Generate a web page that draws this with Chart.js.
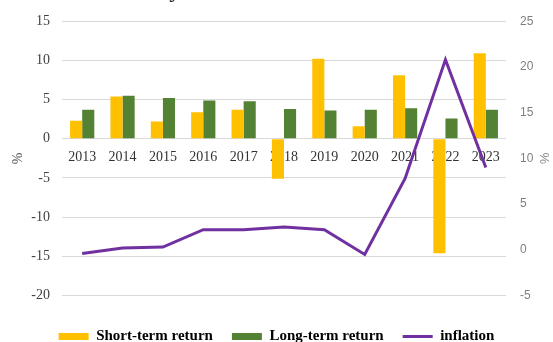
<!DOCTYPE html>
<html>
<head>
<meta charset="utf-8">
<script src="https://cdn.jsdelivr.net/npm/chart.js@4/dist/chart.umd.min.js"></script>
<style>
  html, body { margin: 0; padding: 0; background: #fff; overflow: hidden; }
  #wrap { position: relative; width: 553px; height: 342px; overflow: hidden; }
  canvas { position: absolute; left: 0; top: 0; z-index: 0; }
  #caption {
    position: absolute; left: 8px; top: -23px; margin: 0; z-index: 1;
    font: 24px/24px "Liberation Serif", serif; color: #222; white-space: nowrap;
  }
</style>
</head>
<body>
<div id="wrap">
  <canvas id="chart" width="553" height="354"></canvas>
  <p id="caption">between the analysed variables.</p>
</div>
<script>
// Annual returns (left axis, %) and inflation (right axis, %)
const years = ['2013', '2014', '2015', '2016', '2017', '2018', '2019', '2020', '2021', '2022', '2023'];
const shortTermReturn = [2.3, 5.4, 2.2, 3.4, 3.7, -5.1, 10.2, 1.6, 8.1, -14.6, 10.9];
const longTermReturn = [3.7, 5.5, 5.2, 4.9, 4.8, 3.8, 3.6, 3.7, 3.9, 2.6, 3.7];
const inflation = [-0.4, 0.2, 0.3, 2.2, 2.2, 2.5, 2.2, -0.5, 7.8, 20.8, 9.0];

const serif = '"Liberation Serif", "Times New Roman", serif';
const sans = '"Liberation Sans", Arial, sans-serif';

new Chart(document.getElementById('chart'), {
  type: 'bar',
  data: {
    labels: years,
    datasets: [
      {
        label: 'Short-term return',
        data: shortTermReturn,
        backgroundColor: '#FFC000',
        borderWidth: 0,
        yAxisID: 'y',
        pointStyle: 'rect',
        order: 2,
        categoryPercentage: 0.6,
        barPercentage: 1.0
      },
      {
        label: 'Long-term return',
        data: longTermReturn,
        backgroundColor: '#548235',
        borderWidth: 0,
        yAxisID: 'y',
        pointStyle: 'rect',
        order: 2,
        categoryPercentage: 0.6,
        barPercentage: 1.0
      },
      {
        // drawn over the bars
        type: 'line',
        label: 'inflation',
        data: inflation,
        borderColor: '#7030A0',
        backgroundColor: '#7030A0',
        borderWidth: 3,
        pointRadius: 0,
        pointStyle: 'line',
        tension: 0,
        yAxisID: 'y1',
        order: 1
      }
    ]
  },
  options: {
    responsive: false,
    animation: false,
    layout: { padding: { top: 21, left: 0, right: 0, bottom: 0 } },
    plugins: {
      tooltip: { enabled: false },
      legend: {
        position: 'bottom',
        title: { display: true, text: '', font: { size: 12 }, padding: 0 },
        labels: {
          usePointStyle: true,
          pointStyleWidth: 30,
          boxWidth: 30,
          boxHeight: 7,
          padding: 19,
          color: '#000',
          font: { family: serif, size: 15, weight: 'bold' },
          sort: (a, b) => a.datasetIndex - b.datasetIndex
        }
      }
    },
    scales: {
      x: {
        type: 'category',
        position: { y: 0 },
        offset: true,
        grid: { display: false, drawTicks: false },
        border: { display: false },
        ticks: {
          padding: 10,
          maxRotation: 0,
          autoSkip: false,
          color: '#333',
          font: { family: serif, size: 14 }
        }
      },
      y: {
        position: 'left',
        min: -20,
        max: 15,
        afterFit: (s) => { s.width = 62; },
        grid: { color: '#d9d9d9', lineWidth: 1, drawTicks: false },
        border: { display: false },
        ticks: {
          stepSize: 5,
          padding: 12,
          color: '#404040',
          font: { family: serif, size: 14 }
        },
        title: {
          display: true,
          text: '%',
          color: '#595959',
          padding: { top: 10, bottom: 0 },
          font: { family: serif, size: 14 }
        }
      },
      y1: {
        position: 'right',
        min: -5,
        max: 25,
        afterFit: (s) => { s.width = 47; },
        grid: { display: false, drawTicks: false },
        border: { display: false },
        ticks: {
          stepSize: 5,
          padding: 14,
          color: '#7f7f7f',
          font: { family: sans, size: 12 }
        },
        title: {
          display: true,
          text: '%',
          color: '#8c8c8c',
          padding: { top: 2, bottom: 0 },
          font: { family: sans, size: 13 }
        }
      }
    }
  },
  plugins: [{
    id: 'whiteBackground',
    beforeDraw(chart) {
      const ctx = chart.ctx;
      ctx.save();
      ctx.fillStyle = '#fff';
      ctx.fillRect(0, 0, chart.width, chart.height);
      ctx.restore();
    }
  }]
});
</script>
</body>
</html>
